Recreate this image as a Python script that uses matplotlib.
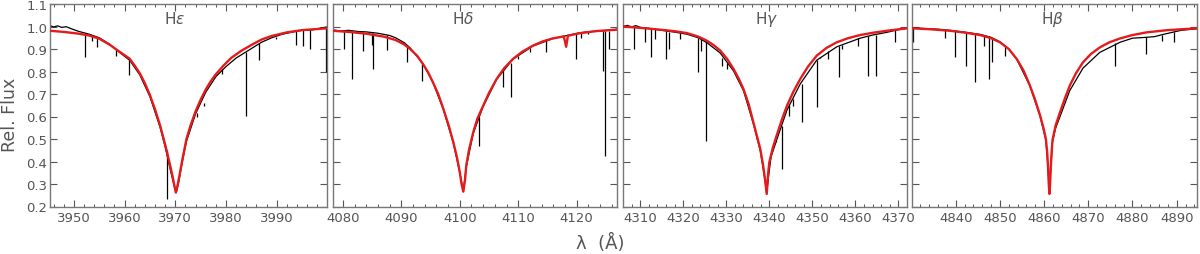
import numpy as np
import matplotlib
matplotlib.use('Agg')
import matplotlib.pyplot as plt
from matplotlib.ticker import MultipleLocator, AutoMinorLocator

# ---- data ------------------------------------------------------------
# model profiles (red): wavelength, relative flux
he_mod_w = [3945.3, 3948.0, 3951.0, 3953.0, 3955.0, 3957.0, 3959.0, 3961.0, 3962.0, 3963.0,
            3964.0, 3965.0, 3966.0, 3967.0, 3968.0, 3968.8, 3969.4, 3969.8, 3970.1, 3970.4,
            3970.8, 3971.4, 3972.2, 3973.0, 3974.0, 3975.0, 3976.0, 3977.0, 3978.0, 3979.5,
            3981.0, 3983.0, 3985.0, 3987.0, 3989.0, 3992.0, 3995.0, 3999.9]
he_mod_f = [0.981, 0.976, 0.968, 0.960, 0.946, 0.920, 0.888, 0.857, 0.826, 0.792,
            0.748, 0.695, 0.632, 0.560, 0.475, 0.400, 0.340, 0.295, 0.262, 0.290,
            0.335, 0.410, 0.500, 0.560, 0.623, 0.675, 0.720, 0.757, 0.788, 0.826,
            0.860, 0.892, 0.918, 0.942, 0.958, 0.974, 0.984, 0.992]

hd_mod_w = [4078.3, 4081.0, 4084.0, 4087.0, 4089.0, 4090.5, 4091.5, 4092.7, 4093.7, 4094.6,
            4095.4, 4096.3, 4097.2, 4098.1, 4098.9, 4099.5, 4100.0, 4100.3, 4100.6, 4100.9,
            4101.1, 4101.6, 4102.3, 4103.0, 4104.0, 4105.0, 4106.3, 4107.6, 4109.1, 4110.7,
            4112.5, 4114.2, 4115.9, 4117.8, 4118.2, 4118.5, 4120.5, 4123.5, 4126.9]
hd_mod_f = [0.981, 0.976, 0.968, 0.955, 0.940, 0.920, 0.900, 0.870, 0.833, 0.795,
            0.752, 0.700, 0.633, 0.560, 0.485, 0.420, 0.352, 0.300, 0.266, 0.320,
            0.381, 0.455, 0.530, 0.590, 0.648, 0.705, 0.767, 0.815, 0.856, 0.888,
            0.915, 0.934, 0.947, 0.956, 0.910, 0.959, 0.970, 0.980, 0.986]

hg_mod_w = [4306.0, 4310.0, 4314.6, 4318.0, 4320.8, 4323.5, 4325.5, 4327.0, 4328.6, 4330.2,
            4331.7, 4332.9, 4334.0, 4335.2, 4336.3, 4337.1, 4337.9, 4338.5, 4339.0, 4339.4,
            4339.7, 4340.0, 4340.8, 4341.7, 4342.9, 4344.1, 4345.6, 4347.2, 4349.0, 4351.0,
            4353.3, 4355.7, 4358.3, 4361.1, 4364.0, 4367.3, 4372.0]
hg_mod_f = [1.000, 0.994, 0.986, 0.979, 0.971, 0.955, 0.937, 0.918, 0.893, 0.856,
            0.811, 0.768, 0.722, 0.655, 0.574, 0.515, 0.456, 0.390, 0.322, 0.256,
            0.340, 0.396, 0.460, 0.515, 0.585, 0.648, 0.710, 0.767, 0.822, 0.870,
            0.905, 0.930, 0.948, 0.962, 0.972, 0.981, 0.992]

hb_mod_w = [4830.1, 4834.0, 4838.7, 4842.0, 4845.5, 4848.0, 4850.0, 4852.0, 4853.8, 4855.4,
            4856.8, 4858.0, 4859.1, 4859.9, 4860.4, 4860.7, 4860.9, 4861.05, 4861.2, 4861.35,
            4861.5, 4861.7, 4861.9, 4862.6, 4863.6, 4864.7, 4865.8, 4867.2, 4868.8, 4870.6,
            4872.6, 4874.8, 4877.2, 4880.0, 4883.2, 4888.0, 4894.6]
hb_mod_f = [0.992, 0.988, 0.981, 0.973, 0.962, 0.948, 0.930, 0.900, 0.856, 0.802,
            0.737, 0.672, 0.604, 0.545, 0.500, 0.440, 0.370, 0.300, 0.256, 0.300,
            0.370, 0.440, 0.495, 0.560, 0.619, 0.680, 0.737, 0.792, 0.841, 0.878,
            0.907, 0.930, 0.947, 0.962, 0.974, 0.984, 0.992]

# observed spectra (black): continuum trace
he_obs_w = [3945.3, 3946.0, 3946.8, 3947.6, 3948.5, 3949.5, 3951.0, 3953.0, 3955.0, 3957.0,
            3959.0, 3961.0, 3963.0, 3965.0, 3967.0, 3968.0, 3969.0, 3969.8, 3970.2, 3970.6,
            3971.4, 3972.2, 3974.0, 3976.0, 3978.0, 3980.0, 3982.0, 3984.5, 3987.0, 3989.0,
            3991.0, 3993.0, 3995.0, 3997.0, 3998.5, 3999.9]
he_obs_f = [1.004, 0.998, 1.003, 0.996, 0.999, 0.990, 0.978, 0.966, 0.950, 0.922,
            0.885, 0.850, 0.785, 0.688, 0.552, 0.465, 0.365, 0.290, 0.262, 0.300,
            0.400, 0.490, 0.612, 0.708, 0.777, 0.822, 0.860, 0.895, 0.930, 0.950,
            0.965, 0.975, 0.983, 0.985, 0.992, 0.998]

hd_obs_w = [4078.3, 4079.5, 4081.0, 4082.5, 4084.0, 4086.0, 4088.0, 4089.0, 4090.5, 4091.5,
            4093.7, 4095.4, 4097.2, 4098.9, 4100.0, 4100.6, 4101.1, 4102.3, 4104.0, 4106.3,
            4109.1, 4112.5, 4115.9, 4118.0, 4120.5, 4122.5, 4124.0, 4126.0, 4126.9]
hd_obs_f = [0.985, 0.980, 0.983, 0.978, 0.976, 0.970, 0.960, 0.950, 0.928, 0.905,
            0.835, 0.752, 0.630, 0.482, 0.350, 0.268, 0.375, 0.525, 0.645, 0.765,
            0.855, 0.913, 0.946, 0.958, 0.972, 0.978, 0.980, 0.984, 0.988]

hg_obs_w = [4306.0, 4307.0, 4308.0, 4309.0, 4310.0, 4312.0, 4314.6, 4318.0, 4320.8, 4323.5,
            4325.5, 4328.6, 4331.7, 4334.0, 4336.3, 4337.9, 4339.0, 4339.4, 4339.8, 4340.4,
            4341.7, 4344.1, 4347.2, 4351.0, 4355.7, 4361.1, 4364.0, 4367.3, 4370.0, 4372.0]
hg_obs_f = [1.000, 1.005, 0.998, 1.004, 0.996, 0.992, 0.984, 0.975, 0.966, 0.950,
            0.928, 0.882, 0.802, 0.715, 0.568, 0.448, 0.318, 0.258, 0.330, 0.420,
            0.495, 0.628, 0.745, 0.850, 0.910, 0.948, 0.962, 0.974, 0.986, 0.992]

hb_obs_w = [4830.1, 4832.0, 4834.0, 4836.0, 4838.7, 4842.0, 4845.5, 4848.0, 4850.0, 4852.0,
            4853.8, 4856.8, 4859.1, 4860.4, 4860.9, 4861.2, 4861.5, 4861.9, 4862.6, 4863.6,
            4865.8, 4868.8, 4872.6, 4877.2, 4880.0, 4883.2, 4885.0, 4887.0, 4891.0, 4894.6]
hb_obs_f = [0.995, 0.992, 0.990, 0.988, 0.983, 0.975, 0.965, 0.952, 0.932, 0.900,
            0.855, 0.735, 0.600, 0.495, 0.370, 0.258, 0.372, 0.488, 0.548, 0.600,
            0.715, 0.815, 0.885, 0.930, 0.948, 0.952, 0.955, 0.965, 0.983, 0.990]

# narrow metal lines in the observed spectra: wavelength, line top, line bottom
he_lines_w = [3952.2, 3953.6, 3954.6, 3958.4, 3960.8, 3968.4, 3974.3, 3975.6, 3979.3,
              3983.9, 3986.4, 3989.8, 3993.7, 3995.2, 3996.6, 3999.8]
he_lines_t = [0.972, 0.960, 0.950, 0.900, 0.858, 0.450, 0.615, 0.660, 0.812,
              0.885, 0.925, 0.955, 0.978, 0.983, 0.985, 0.998]
he_lines_b = [0.863, 0.935, 0.907, 0.870, 0.785, 0.233, 0.600, 0.648, 0.790,
              0.604, 0.850, 0.945, 0.920, 0.915, 0.900, 0.800]

hd_lines_w = [4080.2, 4081.5, 4083.5, 4084.9, 4085.1, 4087.5, 4090.9, 4093.6, 4103.3,
              4107.4, 4108.7, 4110.0, 4112.0, 4114.8, 4119.9, 4120.8, 4121.9, 4124.5,
              4124.9, 4125.5]
hd_lines_t = [0.980, 0.982, 0.977, 0.973, 0.972, 0.962, 0.915, 0.838, 0.600,
              0.810, 0.840, 0.870, 0.905, 0.938, 0.970, 0.972, 0.976, 0.980,
              0.981, 0.982]
hd_lines_b = [0.900, 0.767, 0.893, 0.920, 0.810, 0.897, 0.844, 0.760, 0.470,
              0.730, 0.685, 0.856, 0.885, 0.885, 0.856, 0.950, 0.965, 0.804,
              0.426, 0.900]

hg_lines_w = [4308.6, 4311.0, 4312.4, 4313.4, 4316.0, 4316.8, 4319.3, 4323.5, 4324.1,
              4325.2, 4329.0, 4330.1, 4337.1, 4341.6, 4342.9, 4344.6, 4345.4, 4347.6,
              4351.0, 4351.7, 4353.7, 4356.1, 4357.0, 4360.7, 4362.9, 4364.8, 4369.3]
hg_lines_t = [1.000, 0.994, 0.990, 0.988, 0.980, 0.977, 0.970, 0.950, 0.945,
              0.935, 0.860, 0.840, 0.510, 0.490, 0.560, 0.650, 0.680, 0.745,
              0.850, 0.862, 0.890, 0.912, 0.920, 0.948, 0.956, 0.962, 0.985]
hg_lines_b = [0.900, 0.930, 0.863, 0.945, 0.856, 0.900, 0.945, 0.796, 0.890,
              0.493, 0.826, 0.811, 0.500, 0.485, 0.367, 0.604, 0.648, 0.574,
              0.641, 0.863, 0.856, 0.774, 0.900, 0.915, 0.781, 0.781, 0.930]

hb_lines_w = [4830.4, 4837.6, 4839.8, 4842.3, 4844.4, 4846.4, 4847.5, 4848.3, 4851.1,
              4876.0, 4883.0, 4886.6, 4889.4]
hb_lines_t = [0.995, 0.985, 0.980, 0.972, 0.967, 0.957, 0.950, 0.945, 0.912,
              0.928, 0.952, 0.962, 0.975]
hb_lines_b = [0.930, 0.947, 0.863, 0.826, 0.752, 0.915, 0.767, 0.841, 0.870,
              0.826, 0.878, 0.937, 0.930]

names = [r'H$\epsilon$', r'H$\delta$', r'H$\gamma$', r'H$\beta$']
xlims = [(3945.3, 3999.9), (4078.3, 4126.9), (4306.0, 4372.0), (4830.1, 4894.6)]
name_x = [0.45, 0.458, 0.507, 0.491]

models = [(he_mod_w, he_mod_f), (hd_mod_w, hd_mod_f), (hg_mod_w, hg_mod_f), (hb_mod_w, hb_mod_f)]
obs = [(he_obs_w, he_obs_f), (hd_obs_w, hd_obs_f), (hg_obs_w, hg_obs_f), (hb_obs_w, hb_obs_f)]
lines = [(he_lines_w, he_lines_t, he_lines_b), (hd_lines_w, hd_lines_t, hd_lines_b),
         (hg_lines_w, hg_lines_t, hg_lines_b), (hb_lines_w, hb_lines_t, hb_lines_b)]

# ---- figure -----------------------------------------------------------
grey = '#555555'
plt.rcParams['font.family'] = ['DejaVu Sans']
plt.rcParams['mathtext.fontset'] = 'dejavusans'

fig = plt.figure(figsize=(12, 2.55), dpi=100)
lefts = [50, 333, 623, 912]
widths = [277, 284, 284, 285]
bottom = 1 - 207.5 / 255
height = 202.5 / 255

for i in range(4):
    ax = fig.add_axes([lefts[i] / 1200, bottom, widths[i] / 1200, height])
    ax.plot(obs[i][0], obs[i][1], color='black', lw=0.9, zorder=2)
    ax.vlines(lines[i][0], lines[i][2], lines[i][1], color='black', lw=0.9, zorder=2)
    ax.plot(models[i][0], models[i][1], color='#e41a1c', lw=1.7, zorder=3,
            solid_joinstyle='round')

    ax.set_xlim(*xlims[i])
    ax.set_ylim(0.2, 1.1)
    ax.xaxis.set_major_locator(MultipleLocator(10))
    ax.xaxis.set_minor_locator(AutoMinorLocator(5))
    ax.yaxis.set_major_locator(MultipleLocator(0.1))
    ax.tick_params(which='both', direction='in', top=True, right=True, colors=grey,
                   labelcolor=grey, labelsize=9.5)
    ax.tick_params(which='major', length=5, width=0.8)
    ax.tick_params(which='minor', length=2.5, width=0.7)
    ax.tick_params(axis='y', pad=2)
    for s in ax.spines.values():
        s.set_color('#777777')
        s.set_linewidth(1.0)
    if i == 0:
        ax.set_yticklabels(['%.1f' % v for v in ax.get_yticks()])
    else:
        ax.set_yticklabels([])
    ax.text(name_x[i], 0.93, names[i], transform=ax.transAxes, ha='center', va='center',
            fontsize=11, color=grey)

fig.text(10 / 1200, 0.55, 'Rel. Flux', rotation=90, ha='center', va='center',
         fontsize=12.5, color=grey)
fig.text(0.5, 0.045, 'λ  (Å)', ha='center', va='center', fontsize=13, color=grey)

plt.savefig('out.png', dpi=100)
